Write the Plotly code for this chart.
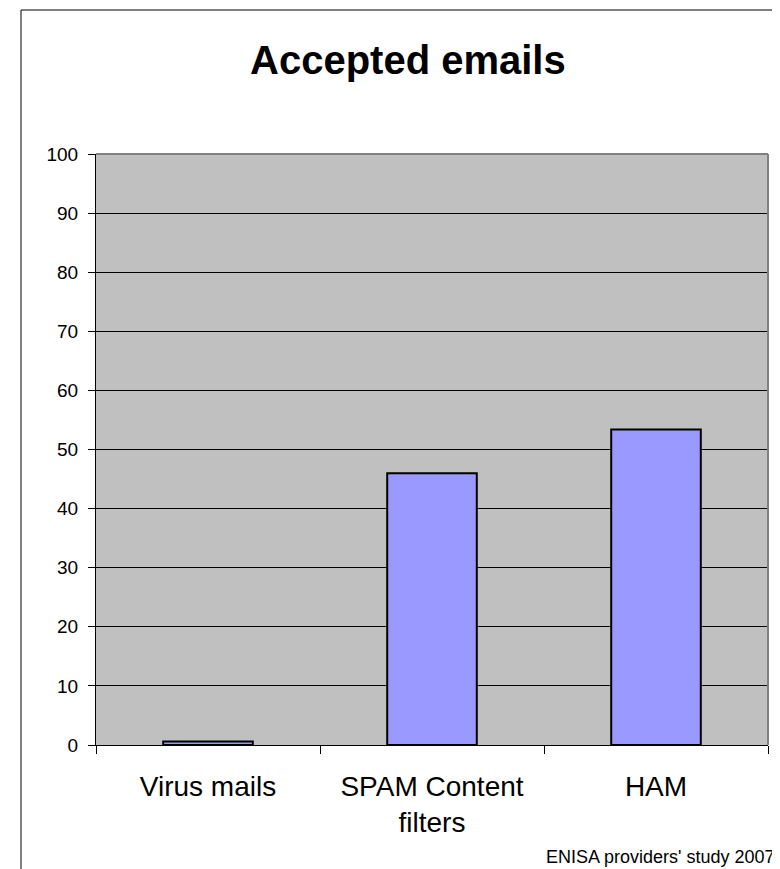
"""
Accepted emails bar chart (ENISA providers' study 2007).
"""

import plotly.graph_objects as go

categories = ["Virus mails", "SPAM Content<br>filters", "HAM"]
values = [0.6, 46.0, 53.4]
y_ticks = list(range(0, 101, 10))

FONT = "Arial, Liberation Sans, sans-serif"

fig = go.Figure(go.Bar(
    x=categories,
    y=values,
    width=0.4,
    marker=dict(color="#9999FF", line=dict(color="black", width=2)),
    hoverinfo="x+y",
))

# page body adds an 8px margin, so the figure is 8px smaller each way
fig.update_layout(
    width=772,
    height=861,
    margin=dict(l=88, r=12, t=146, b=124),
    paper_bgcolor="white",
    plot_bgcolor="#C0C0C0",
    showlegend=False,
    font=dict(family=FONT, color="black"),
)

fig.update_xaxes(
    type="category",
    showline=True,
    linecolor="black",
    linewidth=1,
    ticks="outside",
    tickson="boundaries",
    ticklen=8,
    tickcolor="black",
    tickfont=dict(size=28),
    ticklabelstandoff=16,
    showgrid=False,
)

fig.update_yaxes(
    range=[0, 100],
    tickvals=y_ticks,
    showline=True,
    linecolor="black",
    linewidth=1,
    ticks="outside",
    ticklen=7,
    tickcolor="black",
    tickfont=dict(size=19),
    ticklabelstandoff=6,
    showgrid=True,
    gridcolor="black",
    gridwidth=1,
    zeroline=False,
)

# grey frame on top and right of the plot area
fig.add_shape(type="line", xref="paper", yref="paper", x0=0, x1=1, y0=1, y1=1,
              line=dict(color="#808080", width=2), layer="above")
fig.add_shape(type="line", xref="paper", yref="paper", x0=1, x1=1, y0=0, y1=1,
              line=dict(color="#808080", width=2), layer="above")

# outer chart border
fig.add_shape(type="rect", xref="paper", yref="paper",
              x0=(21 - 96) / 672, x1=(775 - 96) / 672,
              y0=-0.3, y1=(745 - 10) / 591,
              line=dict(color="black", width=1), fillcolor="rgba(0,0,0,0)")

fig.add_annotation(
    text="<b>Accepted emails</b>", xref="paper", yref="paper",
    x=(408 - 96) / 672, y=(745 - 60) / 591, showarrow=False,
    xanchor="center", yanchor="middle", font=dict(size=40),
)

fig.add_annotation(
    text="ENISA providers' study 2007", xref="paper", yref="paper",
    x=(777 - 96) / 672, y=(745 - 857) / 591, showarrow=False,
    xanchor="right", yanchor="middle", font=dict(size=18),
)

fig.write_html("out.html")
